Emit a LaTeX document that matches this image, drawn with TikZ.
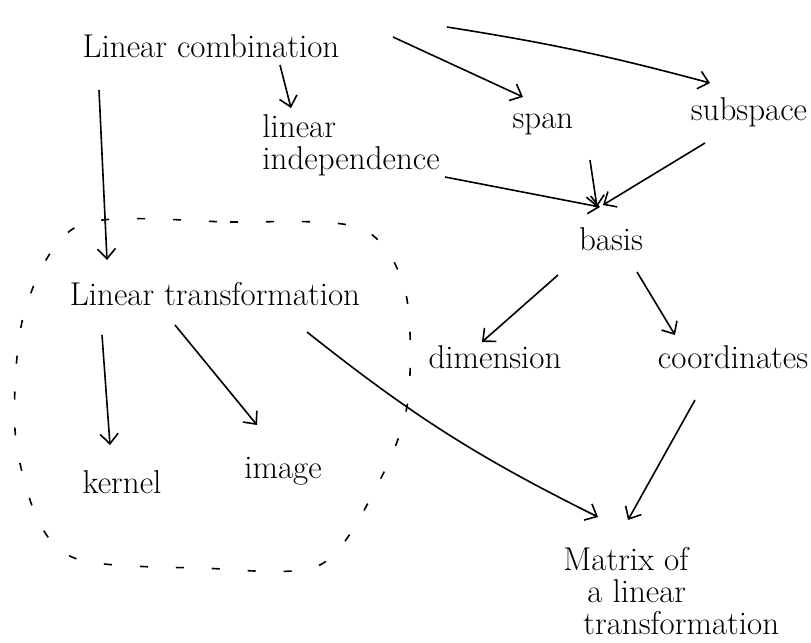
\documentclass[tikz,border=0pt]{standalone}
\usetikzlibrary{arrows.meta,calc}
\begin{document}
\begin{tikzpicture}[x=0.5pt,y=-0.5pt,
  concept/.style={font=\fontsize{16.5}{16}\selectfont,inner sep=0pt},
  link/.style={line width=0.8pt,-{Straight Barb[length=5pt,width=9pt]}},
  region/.style={line width=0.8pt,dash pattern=on 4pt off 14pt}]
\useasboundingbox (0,0) rectangle (811,643);
% concepts
\node[concept,anchor=base] (lc) at (211,57) {Linear combination};
\node[concept,anchor=north west,align=left] (li) at (262,114) {linear\\independence};
\node[concept,anchor=base] (span) at (543,128) {span};
\node[concept,anchor=base] (sub) at (749,120) {subspace};
\node[concept,anchor=base] (basis) at (611,250) {basis};
\node[concept,anchor=base] (lt) at (215,305) {Linear transformation};
\node[concept,anchor=base] (dim) at (495,368) {dimension};
\node[concept,anchor=base] (coord) at (733,368) {coordinates};
\node[concept,anchor=base] (kernel) at (122,493) {kernel};
\node[concept,anchor=base] (image) at (283,478) {image};
\node[concept,anchor=north west,align=left] (matrix) at (563,547) {Matrix of\\\hspace*{12pt}a linear\\\hspace*{10pt}transformation};
% dashed region round the linear transformation
\draw[region] plot[smooth cycle] coordinates {(80,225) (230,222) (360,228) (405,290) (408,400) (380,480) (320,565) (200,568) (80,560) (38,520) (15,430) (25,310)};
% links
\draw[link] ($(lc.base)+(-112,33)$) -- ($(lt.base)+(-108,-45)$);
\draw[link] ($(lc.base)+(69,8)$) -- ($(li.north west)+(29,-6)$);
\draw[link] ($(lc.base)+(182,-20)$) -- ($(span.base)+(-20,-31)$);
\draw[link] ($(lc.base)+(236,-30)$) to[bend left=3] ($(sub.base)+(-39,-37)$);
\draw[link] ($(li.north west)+(183,63)$) -- ($(basis.base)+(-11,-43)$);
\draw[link] ($(span.base)+(47,32)$) -- ($(basis.base)+(-14,-43)$);
\draw[link] ($(sub.base)+(-44,23)$) -- ($(basis.base)+(-8,-45)$);
\draw[link] ($(basis.base)+(-53,25)$) -- ($(dim.base)+(-13,-26)$);
\draw[link] ($(basis.base)+(26,22)$) -- ($(coord.base)+(-58,-33)$);
\draw[link] ($(lt.base)+(-113,30)$) -- ($(kernel.base)+(-12,-48)$);
\draw[link] ($(lt.base)+(-40,20)$) -- ($(image.base)+(-26,-53)$);
\draw[link] ($(lt.base)+(92,27)$) to[bend right=6] ($(matrix.north west)+(35,-30)$);
\draw[link] ($(coord.base)+(-38,32)$) -- ($(matrix.north west)+(65,-27)$);
\end{tikzpicture}
\end{document}
